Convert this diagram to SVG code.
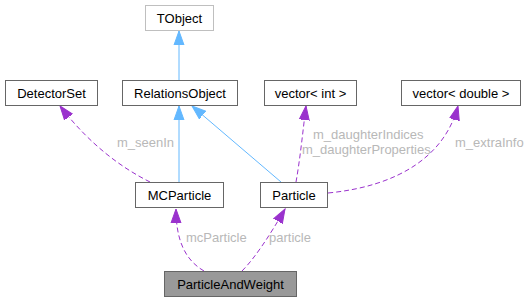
<svg xmlns="http://www.w3.org/2000/svg" width="529" height="301" viewBox="0 0 529 301">
<style>
.n rect{fill:#fff;stroke:#666;stroke-width:1}
.n text{font-family:"Liberation Sans",Arial,sans-serif;font-size:13px;fill:#000;text-anchor:middle}
.inh{fill:none;stroke:#63b8ff;stroke-width:1}
.use{fill:none;stroke:#9a32cd;stroke-width:1;stroke-dasharray:5,3}
.lbl{font-family:"Liberation Sans",Arial,sans-serif;font-size:13px;fill:#b8b8b8}
</style>
<defs>
<marker id="ab" markerUnits="userSpaceOnUse" markerWidth="15" markerHeight="12" refX="14" refY="6" orient="auto" viewBox="0 0 15 12">
<path d="M0,1 L14,6 L0,11 Z" fill="#63b8ff" stroke="#63b8ff"/>
</marker>
<marker id="ap" markerUnits="userSpaceOnUse" markerWidth="15" markerHeight="12" refX="14" refY="6" orient="auto" viewBox="0 0 15 12">
<path d="M0,1 L14,6 L0,11 Z" fill="#9a32cd" stroke="#9a32cd"/>
</marker>
</defs>
<g id="connectors">
<path class="inh" d="M179,80 L179,31" marker-end="url(#ab)"/>
<path class="inh" d="M179,182 L179,106" marker-end="url(#ab)"/>
<path class="inh" d="M281,182 L192,106" marker-end="url(#ab)"/>
<path class="use" d="M150,182 C122,168 90,145 60,106" marker-end="url(#ap)"/>
<path class="use" d="M296,182 C300,160 303,130 306,106" marker-end="url(#ap)"/>
<path class="use" d="M328,193 C400,186 445,155 458,106" marker-end="url(#ap)"/>
<path class="use" d="M204,271 C185,260 176,240 176,209" marker-end="url(#ap)"/>
<path class="use" d="M242,271 C255,258 270,235 285,209" marker-end="url(#ap)"/>
<text class="lbl" x="117" y="147">m_seenIn</text>
<text class="lbl" x="313" y="138.5">m_daughterIndices</text>
<text class="lbl" x="302" y="153.5">m_daughterProperties</text>
<text class="lbl" x="455" y="147">m_extraInfo</text>
<text class="lbl" x="186" y="242">mcParticle</text>
<text class="lbl" x="269" y="242">particle</text>
</g>
<g id="TObject" class="n"><rect x="145.5" y="5.5" width="68" height="25" style="stroke:#bfbfbf"/><text x="179.5" y="22.5">TObject</text></g>
<g id="DetectorSet" class="n"><rect x="5.5" y="80.5" width="92" height="25"/><text x="51.5" y="97.5">DetectorSet</text></g>
<g id="RelationsObject" class="n"><rect x="122.5" y="80.5" width="115" height="25"/><text x="180" y="97.5">RelationsObject</text></g>
<g id="vector_int" class="n"><rect x="264.5" y="80.5" width="92" height="25"/><text x="310.5" y="97.5">vector&lt; int &gt;</text></g>
<g id="vector_double" class="n"><rect x="401.5" y="80.5" width="119" height="25"/><text x="461" y="97.5">vector&lt; double &gt;</text></g>
<g id="MCParticle" class="n"><rect x="135.5" y="182.5" width="88" height="25"/><text x="179.5" y="199.5">MCParticle</text></g>
<g id="Particle" class="n"><rect x="260.5" y="182.5" width="67" height="25"/><text x="294" y="199.5">Particle</text></g>
<g id="ParticleAndWeight" class="n"><rect x="164.5" y="271.5" width="132" height="25" style="fill:#999"/><text x="230.5" y="288.5">ParticleAndWeight</text></g>
</svg>
